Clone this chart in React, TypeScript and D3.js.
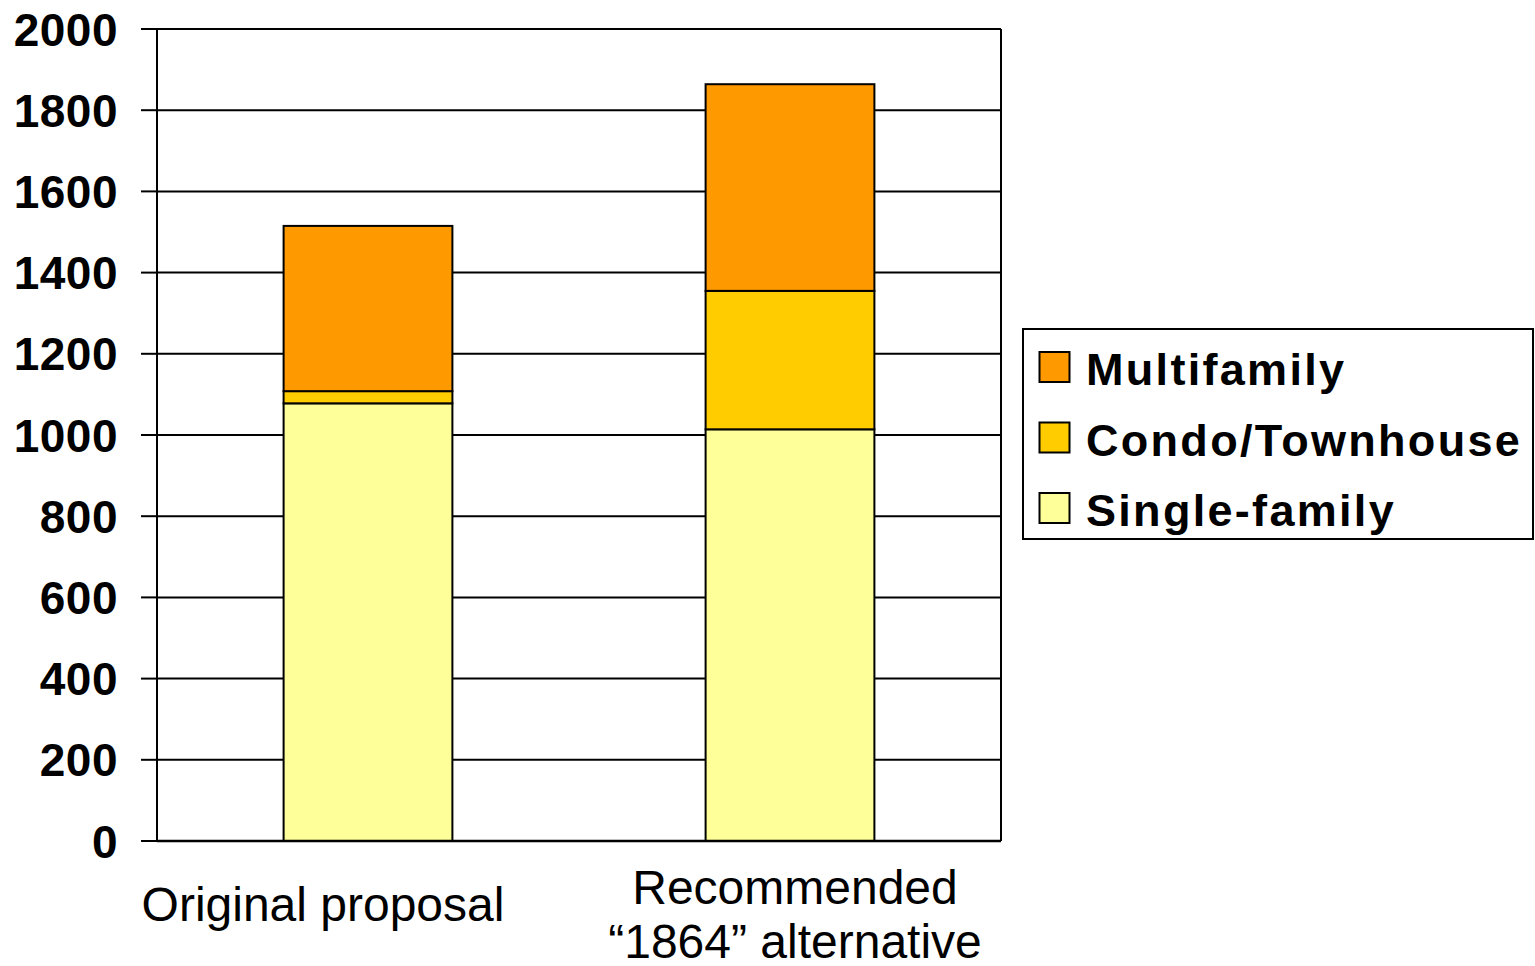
import React from "react";
import * as d3 from "d3";

const categories = ["Original proposal", "Recommended “1864” alternative"];
const categoryLines = [["Original proposal"], ["Recommended", "“1864” alternative"]];
const seriesNames = ["Single-family", "Condo/Townhouse", "Multifamily"];
const singleFamily = [1078, 1014];
const condoTownhouse = [30, 341];
const multifamily = [407, 509];
const seriesColors = ["#FFFF99", "#FFCC00", "#FF9900"];
const yTicks = [0, 200, 400, 600, 800, 1000, 1200, 1400, 1600, 1800, 2000];

const W = 1535;
const H = 966;
const left = 157;
const right = 1001;
const top = 29;
const bottom = 841;

export default function App() {
  const y = d3.scaleLinear().domain([0, 2000]).range([bottom, top]);
  const x = d3
    .scaleBand<string>()
    .domain(categories)
    .range([left, right])
    .paddingInner(0.6)
    .paddingOuter(0.3);

  const rows = categories.map((c, i) => ({
    cat: c,
    "Single-family": singleFamily[i],
    "Condo/Townhouse": condoTownhouse[i],
    Multifamily: multifamily[i],
  }));
  const stacked = d3.stack<any>().keys(seriesNames)(rows);

  const legendOrder = [2, 1, 0];
  const font = "'Liberation Sans', Arial, sans-serif";

  return (
    <svg
      width={W}
      height={H}
      style={{ position: "absolute", left: 0, top: 0, background: "#fff" }}
      fontFamily={font}
    >
      <rect x={0} y={0} width={W} height={H} fill="#fff" />
      {yTicks.map((t) => (
        <line
          key={"g" + t}
          x1={left}
          x2={right}
          y1={y(t)}
          y2={y(t)}
          stroke="#000"
          strokeWidth={2}
        />
      ))}
      {yTicks.map((t) => (
        <line
          key={"t" + t}
          x1={left - 16}
          x2={left}
          y1={y(t)}
          y2={y(t)}
          stroke="#000"
          strokeWidth={2}
        />
      ))}
      {stacked.map((s, si) =>
        s.map((d, i) => (
          <rect
            key={si + "-" + i}
            x={x(categories[i])!}
            width={x.bandwidth()}
            y={y(d[1])}
            height={y(d[0]) - y(d[1])}
            fill={seriesColors[si]}
            stroke="#000"
            strokeWidth={2}
          />
        ))
      )}
      <line x1={left} x2={right} y1={top} y2={top} stroke="#000" strokeWidth={2} />
      <line x1={right} x2={right} y1={top} y2={bottom} stroke="#000" strokeWidth={2} />
      <line x1={left} x2={left} y1={top} y2={bottom} stroke="#000" strokeWidth={2} />
      <line x1={left} x2={right} y1={bottom} y2={bottom} stroke="#000" strokeWidth={2.5} />
      {yTicks.map((t) => (
        <text
          key={"l" + t}
          x={118}
          y={y(t)}
          dy="0.36em"
          textAnchor="end"
          fontSize={46}
          fontWeight="bold"
          letterSpacing={0.5}
        >
          {t}
        </text>
      ))}
      {categoryLines.map((lines, i) => {
        const cx = x(categories[i])! + x.bandwidth() / 2;
        if (lines.length === 1) {
          return (
            <text key={"c" + i} x={cx - 45} y={921} textAnchor="middle" fontSize={48}>
              {lines[0]}
            </text>
          );
        }
        return (
          <text key={"c" + i} textAnchor="middle" fontSize={48}>
            {lines.map((ln, j) => (
              <tspan key={j} x={cx + 5} y={904 + j * 54}>
                {ln}
              </tspan>
            ))}
          </text>
        );
      })}
      <rect x={1023} y={329} width={510} height={210} fill="#fff" stroke="#000" strokeWidth={2} />
      {legendOrder.map((si, k) => (
        <g key={"lg" + si} transform={`translate(0, ${352 + k * 70.5})`}>
          <rect x={1039.5} y={0} width={30} height={30} fill={seriesColors[si]} stroke="#000" strokeWidth={2} />
          <text x={1086} y={33} fontSize={45} fontWeight="bold" letterSpacing={2.3}>
            {seriesNames[si]}
          </text>
        </g>
      ))}
    </svg>
  );
}
